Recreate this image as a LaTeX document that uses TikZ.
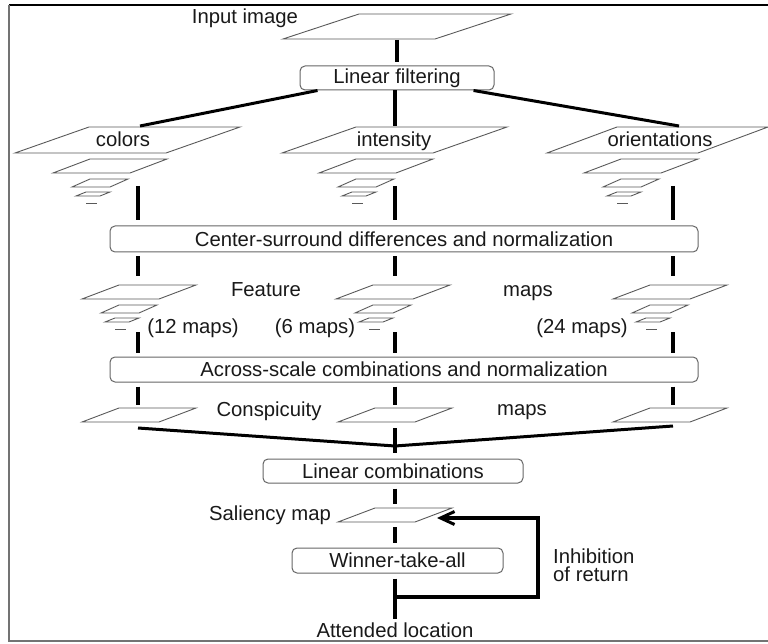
\documentclass[tikz,border=0pt]{standalone}
\usepackage{fontspec}
\setmainfont{Liberation Sans}
\usetikzlibrary{arrows.meta}

% one flat map drawn as a parallelogram: bottom-left corner, width, skew, height
\newcommand{\sheet}[5]{\draw[sheetline] (#1,#2) -- ++(#3,0) -- ++(#4,-#5) -- ++(-#3,0) -- cycle;}
% a small pyramid of maps, its largest level with bottom-left corner at (#1,#2)
\newcommand{\mappyr}[2]{%
  \sheet{#1}{#2}{77}{37}{14}
  \sheet{#1+19}{#2+14}{38}{18}{8}
  \sheet{#1+23}{#2+23}{24}{10}{4}
  \draw[sheetline] (#1+33,#2+30) -- ++(11,0);}

\tikzset{
  sheetline/.style={draw=black!65, line width=0.9pt, line join=miter},
  box/.style={draw=black!60, line width=1pt, rounded corners=5pt, inner sep=0pt,
              font=\fontsize{20.3pt}{23pt}\selectfont, text=black!90},
  lbl/.style={font=\fontsize{20.3pt}{23pt}\selectfont, text=black!90, inner sep=1pt,
              text height=14pt, text depth=4pt},
  link/.style={draw=black, line width=3.6pt},
  diag/.style={draw=black, line width=3pt},
}

\begin{document}
\begin{tikzpicture}[x=1pt,y=-1pt]
\useasboundingbox (0,0) rectangle (768,644);

% frame
\draw[black, line width=2pt] (9,5) -- (768,5);
\draw[black!55, line width=1.2pt] (9,5) -- (9,641) -- (768,641);

% input image
\sheet{283}{39}{152}{76}{25}
\node[lbl] (inlbl) at (245,19) {Input image};
\coordinate (inp) at (397,40);

% linear filtering
\node[box, minimum width=194pt, minimum height=24pt] (lf) at (397,78) {Linear filtering};

% feature channels
\sheet{15}{153}{151}{74}{26}
\sheet{282}{153}{151}{74}{26}
\sheet{547}{153}{151}{70}{26}
\node[lbl] (colL) at (123,142) {colors};
\node[lbl] (intL) at (394,142) {intensity};
\node[lbl] (oriL) at (660,142) {orientations};
\coordinate (colT) at (140,126);
\coordinate (intT) at (395,126);
\coordinate (oriT) at (679,126);

\mappyr{53}{173}
\mappyr{319}{173}
\mappyr{584}{173}
\coordinate (colP) at (138,186);
\coordinate (intP) at (395,186);
\coordinate (oriP) at (673,186);

% center-surround stage
\node[box, minimum width=588pt, minimum height=26pt] (cs) at (404,239)
  {Center-surround differences and normalization};

% feature maps
\mappyr{82}{299}
\mappyr{336}{299}
\mappyr{613}{299}
\node[lbl] (featL) at (266,291) {Feature};
\node[lbl] (featM) at (528,291) {maps};
\node[lbl] (n12) at (193,328) {(12 maps)};
\node[lbl] (n6) at (315,328) {(6 maps)};
\node[lbl] (n24) at (582,328) {(24 maps)};
\coordinate (colFt) at (138,276);
\coordinate (intFt) at (395,276);
\coordinate (oriFt) at (673,276);
\coordinate (colFb) at (138,332);
\coordinate (intFb) at (395,332);
\coordinate (oriFb) at (673,332);

% across-scale stage
\node[box, minimum width=588pt, minimum height=25pt] (as) at (404,369.5)
  {Across-scale combinations and normalization};

% conspicuity maps
\sheet{82}{422}{77}{37}{14}
\sheet{338}{422}{77}{37}{14}
\sheet{613}{422}{77}{37}{14}
\node[lbl] (conL) at (269,411) {Conspicuity};
\node[lbl] (conM) at (522,410) {maps};
\coordinate (colCt) at (138,405);
\coordinate (intCt) at (395,405);
\coordinate (oriCt) at (673,405);
\coordinate (colCb) at (138,428);
\coordinate (intCb) at (395,428);
\coordinate (oriCb) at (673,426);
\coordinate (join) at (395,446);

% linear combinations
\node[box, minimum width=260pt, minimum height=24pt] (lc) at (393,471) {Linear combinations};

% saliency map
\sheet{338}{522}{77}{37}{14}
\node[lbl] (salL) at (270,515) {Saliency map};
\coordinate (salT) at (395,504);
\coordinate (salB) at (395,527);
\coordinate (salR) at (437,518);

% winner-take-all
\node[box, minimum width=211pt, minimum height=25pt] (wta) at (397.5,560.5) {Winner-take-all};
\node[lbl] (att) at (395,632) {Attended location};
\node[anchor=west, align=left, inner sep=1pt, text=black!90,
      font=\fontsize{20.3pt}{18.5pt}\selectfont] (ior) at (552,565)
  {Inhibition\\of return};
\coordinate (fb) at (395,597);
\coordinate (turn) at (538,518);

% connectors
\draw[link, shorten >=3pt] (inp) -- (lf.north);
\draw[diag] ([xshift=18pt]lf.south west) -- (colT);
\draw[link] (lf.south -| intT) -- (intT);
\draw[diag] ([xshift=-21pt]lf.south east) -- (oriT);

\foreach \c in {col,int,ori}{
  \draw[link, shorten >=5pt] (\c P) -- (cs.north -| \c P);
  \draw[link, shorten <=4pt] (cs.south -| \c Ft) -- (\c Ft);
  \draw[link, shorten >=4pt] (\c Fb) -- (as.north -| \c Fb);
  \draw[link, shorten <=4pt] (as.south -| \c Ct) -- (\c Ct);
}
\draw[diag] (colCb) -- (join);
\draw[diag] (oriCb) -- (join);
\draw[link, shorten >=6pt] (intCb) -- (lc.north -| intCb);
\draw[link, shorten <=5pt] (lc.south -| salT) -- (salT);
\draw[link, shorten >=5pt] (salB) -- (wta.north -| salB);
\draw[link, shorten <=5pt, shorten >=3pt] (wta.south -| fb) -- (att.north);
\draw[link, line join=miter, -{Straight Barb[length=14pt,width=13pt,line width=3pt]}]
  (fb) -| (turn) -- (salR);
\end{tikzpicture}
\end{document}
